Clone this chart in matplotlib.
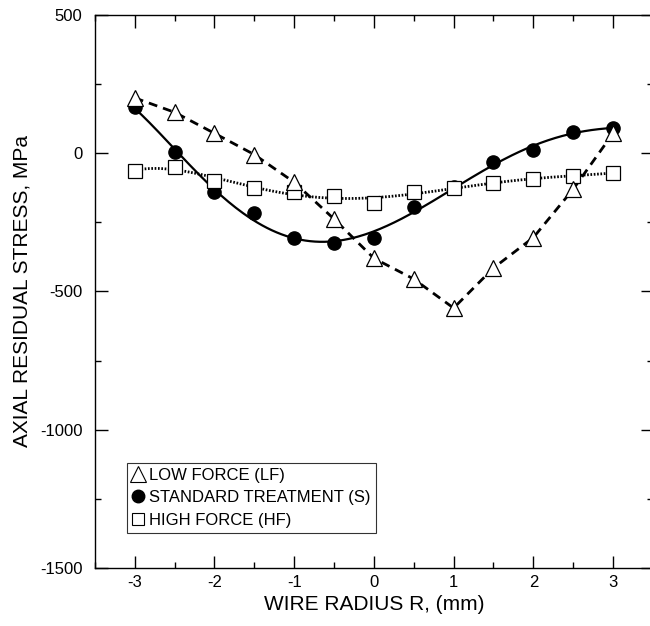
"""
Axial residual stress across wire radius for three treatments.
"""

import numpy as np
import matplotlib
matplotlib.use("Agg")
import matplotlib.pyplot as plt
from matplotlib.ticker import MultipleLocator

plt.rcParams["font.family"] = ["Liberation Sans", "DejaVu Sans"]
plt.rcParams["axes.unicode_minus"] = False

# Radial positions, mm
radius = [-3, -2.5, -2, -1.5, -1, -0.5, 0, 0.5, 1, 1.5, 2, 2.5, 3]

# Axial residual stress, MPa
low_force = [200, 148, 72, -5, -105, -238, -380, -455, -560, -415, -305, -130, 72]
standard = [167, 5, -140, -218, -308, -325, -308, -196, -122, -33, 10, 77, 92]
high_force = [-64, -50, -100, -126, -140, -155, -180, -140, -126, -107, -93, -82, -71]

labels = ["LOW FORCE (LF)", "STANDARD TREATMENT (S)", "HIGH FORCE (HF)"]


def smooth_fit(x, y, degree):
    # Least squares polynomial used for the fitted trend lines.
    coeffs = np.polyfit(x, y, degree)
    xs = np.linspace(min(x), max(x), 200)
    return xs, np.polyval(coeffs, xs)


fig = plt.figure(figsize=(6.5, 6.26), dpi=100)
ax = fig.add_axes([0.146, 0.0927, 0.8585, 0.8834])

# Fitted curves
xs, ys = smooth_fit(radius, standard, 5)
ax.plot(xs, ys, color="black", linewidth=1.6, linestyle="-", zorder=2)
xs, ys = smooth_fit(radius, high_force, 5)
ax.plot(xs, ys, color="black", linewidth=2.0, linestyle=(0, (0.6, 0.6)), zorder=2)
ax.plot(radius, low_force, color="black", linewidth=2.0, linestyle=(0, (3.2, 2.2)), zorder=2)

# Measured points
ax.plot(radius, standard, linestyle="none", marker="o", markersize=9.5,
        markerfacecolor="black", markeredgecolor="black", zorder=3)
ax.plot(radius, high_force, linestyle="none", marker="s", markersize=9.5,
        markerfacecolor="white", markeredgecolor="black", markeredgewidth=0.9, zorder=4)
ax.plot(radius, low_force, linestyle="none", marker="^", markersize=12,
        markerfacecolor="white", markeredgecolor="black", markeredgewidth=0.9, zorder=5)

# Legend proxies
h_lf, = ax.plot([], [], linestyle="none", marker="^", markersize=11,
                markerfacecolor="white", markeredgecolor="black", markeredgewidth=0.8)
h_s, = ax.plot([], [], linestyle="none", marker="o", markersize=9,
               markerfacecolor="black", markeredgecolor="black")
h_hf, = ax.plot([], [], linestyle="none", marker="s", markersize=9,
                markerfacecolor="white", markeredgecolor="black", markeredgewidth=0.8)
leg = ax.legend([h_lf, h_s, h_hf], labels, loc="lower left",
                bbox_to_anchor=(0.057, 0.064), fontsize=12, frameon=True,
                fancybox=False, handlelength=0.8, handletextpad=0.25,
                borderpad=0.3, labelspacing=0.45, borderaxespad=0)
leg.get_frame().set_edgecolor("black")
leg.get_frame().set_linewidth(0.8)

ax.set_xlim(-3.5, 3.5)
ax.set_ylim(-1500, 500)
ax.xaxis.set_major_locator(MultipleLocator(1))
ax.xaxis.set_minor_locator(MultipleLocator(0.5))
ax.yaxis.set_major_locator(MultipleLocator(500))
ax.yaxis.set_minor_locator(MultipleLocator(250))
ax.set_xticks([-3, -2, -1, 0, 1, 2, 3])

ax.tick_params(which="both", direction="in", top=True, right=True, labelsize=12)
ax.tick_params(which="major", length=9, width=1.0)
ax.tick_params(which="minor", length=4, width=1.0)
ax.tick_params(axis="y", pad=9)
ax.tick_params(axis="x", pad=5)
for spine in ax.spines.values():
    spine.set_linewidth(1.0)

ax.set_xlabel("WIRE RADIUS R, (mm)", fontsize=15, labelpad=4)
ax.set_ylabel("AXIAL RESIDUAL STRESS, MPa", fontsize=15, labelpad=6)

fig.savefig("out.png", dpi=100)
plt.close(fig)
